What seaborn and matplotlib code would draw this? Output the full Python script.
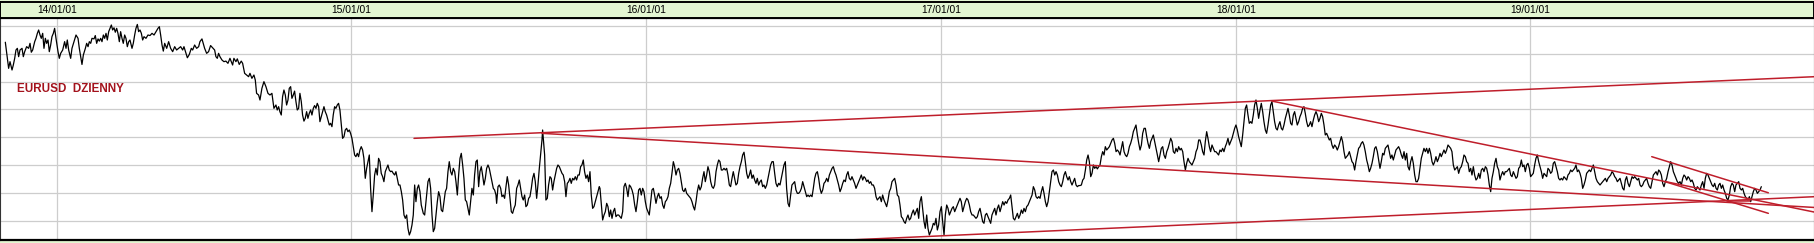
import numpy as np
import pandas as pd
import matplotlib
matplotlib.use("Agg")
import matplotlib.pyplot as plt
import seaborn as sns

# ---------------- data (day offset from 2014-01-01, EURUSD daily close) ----------------
eurusd_part1 = [(-64.0,1.371),(-59.9,1.324),(-58.2,1.336),(-55.7,1.321),(-54.1,1.330),(-52.4,1.342),(-50.8,1.357),(-49.1,1.360),(-47.5,1.345),(-45.8,1.357),(-43.3,1.360),(-41.7,1.345),(-40.0,1.354),(-37.6,1.363),(-35.1,1.360),(-33.4,1.369),(-31.8,1.353),(-30.1,1.357),(-27.6,1.372),(-26.0,1.378),(-24.3,1.387),(-22.7,1.393),(-21.0,1.384),(-19.4,1.378),(-17.7,1.387),(-16.1,1.360),(-14.4,1.378),(-12.8,1.369),(-11.1,1.375),(-9.5,1.354),(-7.8,1.366),(-6.2,1.381),(-4.5,1.387),(-2.9,1.396),(-1.2,1.378),(1.3,1.354),(2.9,1.342),(4.6,1.351),(7.1,1.357),(9.5,1.372),(11.2,1.360),(12.8,1.375),(14.5,1.357),(17.0,1.342),(18.6,1.360),(21.1,1.372),(23.6,1.384),(26.1,1.378),(27.7,1.360),(29.4,1.345),(31.0,1.331),(32.7,1.348),(35.2,1.360),(36.8,1.369),(38.5,1.363),(40.1,1.372),(41.8,1.369),(43.4,1.378),(45.9,1.377),(47.5,1.383),(49.2,1.369),(50.9,1.377),(52.5,1.373),(54.2,1.378),(55.8,1.372),(57.5,1.384),(59.1,1.378),(60.8,1.387),(62.4,1.375),(64.1,1.390),(65.7,1.396),(67.4,1.402),(69.0,1.393),(70.7,1.397),(72.3,1.389),(74.0,1.396),(75.6,1.387),(77.3,1.372),(78.9,1.390),(80.6,1.378),(82.2,1.369),(83.9,1.384),(85.5,1.378),(87.2,1.363),(88.9,1.372),(90.5,1.375),(93.0,1.360),(94.6,1.369),(96.3,1.384),(97.9,1.396),(99.6,1.403),(101.2,1.390),(102.9,1.393),(104.6,1.387),(106.2,1.375),(107.9,1.381),(110.3,1.378),(112.8,1.384),(115.3,1.383),(117.8,1.387),(120.3,1.384),(122.7,1.390),(125.2,1.396),(126.9,1.399),(128.5,1.384),(130.2,1.366),(131.8,1.355),(133.5,1.369),(136.0,1.360),(138.4,1.372),(140.9,1.360),(143.4,1.354),(145.9,1.363),(148.3,1.357),(150.8,1.360),(153.3,1.363),(155.8,1.357),(157.4,1.363),(159.9,1.351),(161.6,1.343),(164.0,1.349),(166.5,1.360),(168.2,1.357),(170.6,1.366),(173.1,1.360),(175.6,1.363)]

eurusd_part2 = [(177.2,1.372),(179.7,1.377),(181.3,1.369),(183.0,1.360),(185.5,1.351),(187.9,1.354),(190.4,1.365),(192.9,1.361),(195.4,1.357),(197.0,1.345),(198.7,1.342),(200.3,1.351),(202.0,1.345),(204.5,1.339),(206.9,1.336),(209.4,1.337),(211.9,1.333),(214.4,1.342),(216.0,1.336),(217.7,1.330),(219.3,1.342),(221.8,1.336),(223.5,1.341),(225.9,1.331),(228.4,1.337),(230.1,1.333),(232.6,1.315),(235.0,1.312),(237.5,1.309),(239.2,1.315),(241.6,1.306),(244.1,1.312),(245.8,1.303),(247.4,1.279),(249.9,1.276),(251.6,1.267),(254.0,1.288),(256.5,1.300),(259.0,1.291),(261.5,1.279),(264.0,1.276),(266.4,1.279),(268.9,1.252),(271.4,1.258),(273.0,1.249),(274.7,1.255),(276.3,1.246),(278.0,1.240),(279.6,1.273),(281.3,1.285),(283.0,1.276),(284.6,1.258),(286.3,1.267),(287.9,1.288),(289.6,1.291),(291.2,1.270),(292.9,1.276),(294.5,1.283),(296.2,1.264),(297.8,1.249),(299.5,1.252),(301.1,1.279),(302.8,1.264),(304.4,1.240),(306.1,1.229),(307.7,1.234),(309.4,1.246),(311.0,1.234),(312.7,1.243),(314.4,1.249),(316.0,1.240),(317.7,1.252),(319.3,1.257),(321.0,1.252),(322.6,1.261),(324.3,1.255),(325.9,1.228),(327.6,1.237),(329.2,1.246),(330.9,1.255),(332.5,1.246),(334.2,1.240),(335.8,1.231),(337.5,1.222),(339.1,1.225),(340.8,1.219),(342.4,1.240),(344.1,1.255),(345.7,1.252),(347.4,1.258),(349.0,1.261),(350.7,1.249),(352.4,1.222),(354.0,1.198),(355.7,1.201),(357.3,1.213),(359.0,1.216),(360.6,1.210),(362.3,1.213),(363.9,1.207),(365.6,1.198),(367.2,1.183),(368.9,1.168),(370.5,1.165),(372.2,1.171),(373.8,1.165),(375.5,1.177),(377.1,1.183),(378.8,1.177),(380.4,1.162),(382.1,1.126),(383.8,1.144),(385.4,1.156),(387.1,1.168),(388.7,1.108),(390.4,1.066),(392.0,1.096),(393.7,1.132),(395.3,1.144),(397.0,1.132),(398.6,1.162),(400.3,1.156),(401.9,1.135),(403.6,1.129),(405.2,1.120),(406.9,1.138),(408.5,1.144),(410.2,1.150),(411.8,1.141),(413.5,1.138),(415.1,1.139),(416.8,1.135),(418.5,1.132),(420.1,1.138),(421.8,1.126),(423.4,1.114)]

eurusd_part3 = [(425.1,1.114),(426.8,1.102),(428.4,1.087),(430.1,1.060),(431.7,1.054),(433.4,1.060),(435.0,1.036),(436.7,1.024),(438.3,1.030),(440.0,1.042),(441.6,1.060),(443.3,1.114),(444.9,1.084),(446.6,1.108),(448.2,1.114),(449.9,1.102),(451.5,1.078),(454.0,1.063),(455.7,1.060),(457.3,1.084),(459.8,1.120),(461.5,1.126),(463.1,1.108),(464.8,1.060),(466.4,1.030),(468.1,1.036),(469.7,1.060),(471.4,1.084),(473.0,1.102),(474.7,1.093),(476.3,1.069),(478.0,1.066),(479.6,1.084),(481.3,1.102),(482.9,1.108),(484.6,1.138),(486.2,1.156),(487.9,1.138),(489.5,1.132),(491.2,1.144),(492.9,1.138),(494.5,1.120),(496.2,1.096),(497.8,1.132),(499.5,1.162),(501.1,1.171),(502.8,1.150),(504.4,1.126),(506.1,1.087),(507.7,1.084),(509.4,1.072),(511.0,1.060),(512.7,1.084),(514.3,1.108),(516.0,1.096),(517.6,1.132),(519.3,1.156),(520.9,1.159),(522.6,1.111),(524.2,1.138),(525.9,1.147),(527.5,1.132),(529.2,1.114),(530.9,1.126),(532.5,1.144),(534.2,1.150),(535.8,1.144),(537.5,1.132),(539.1,1.120),(540.8,1.108),(542.4,1.105),(544.1,1.096),(544.9,1.081),(546.6,1.111),(548.2,1.114),(549.9,1.108),(551.5,1.093),(553.2,1.096),(554.8,1.090),(556.5,1.111),(558.1,1.129),(559.8,1.114),(561.4,1.090),(563.1,1.066),(564.7,1.063),(566.4,1.072),(568.0,1.078),(569.7,1.108),(571.3,1.114),(573.0,1.123),(574.6,1.108),(576.3,1.093),(577.9,1.087),(579.6,1.096),(581.2,1.075),(582.9,1.078),(584.6,1.090),(586.2,1.093),(587.9,1.108),(589.5,1.126),(591.2,1.135),(592.8,1.120),(594.5,1.090),(596.1,1.114),(597.8,1.144),(599.4,1.168),(601.1,1.195),(601.9,1.213),(602.7,1.198),(604.4,1.168),(606.0,1.087),(607.7,1.090),(609.3,1.114),(611.0,1.129),(612.6,1.126),(614.3,1.105),(615.9,1.120),(617.6,1.132),(619.3,1.144),(620.9,1.150),(622.6,1.147),(624.2,1.141),(625.9,1.135),(627.5,1.132),(629.2,1.120),(630.8,1.093),(632.5,1.117),(634.1,1.120),(635.8,1.126),(637.4,1.117),(639.1,1.126),(640.7,1.123),(642.4,1.129),(644.0,1.123),(645.7,1.132),(647.3,1.132),(649.0,1.147),(650.6,1.150),(652.3,1.159),(653.9,1.138),(655.6,1.126),(657.3,1.132),(658.9,1.120),(660.6,1.138),(662.2,1.096),(663.9,1.072),(665.5,1.075),(667.2,1.084),(668.8,1.093),(670.5,1.102),(672.1,1.111)]

eurusd_part4 = [(673.0,1.108),(674.7,1.078),(676.3,1.051),(678.0,1.060),(679.6,1.066),(681.3,1.081),(682.9,1.075),(684.6,1.057),(686.2,1.069),(687.9,1.054),(689.5,1.066),(691.2,1.072),(692.8,1.057),(694.5,1.060),(696.1,1.060),(697.8,1.057),(699.4,1.054),(701.1,1.066),(702.7,1.111),(704.4,1.117),(706.0,1.108),(707.7,1.093),(709.4,1.114),(711.0,1.111),(712.7,1.105),(714.3,1.096),(716.0,1.078),(717.6,1.066),(719.3,1.084),(720.9,1.105),(722.6,1.108),(724.2,1.096),(725.9,1.108),(727.5,1.102),(729.2,1.084),(730.8,1.072),(732.5,1.066),(734.1,1.060),(735.8,1.084),(737.4,1.105),(739.1,1.108),(740.7,1.096),(742.4,1.081),(744.1,1.093),(745.7,1.099),(747.4,1.090),(749.0,1.093),(750.7,1.078),(752.3,1.072),(754.0,1.084),(755.6,1.087),(757.3,1.093),(758.9,1.108),(760.6,1.117),(762.2,1.135),(763.9,1.156),(765.5,1.147),(767.2,1.132),(768.8,1.141),(770.5,1.144),(772.1,1.135),(773.8,1.120),(775.4,1.105),(777.1,1.102),(778.8,1.108),(780.4,1.099),(782.1,1.096),(783.7,1.093),(785.4,1.090),(787.0,1.084),(788.7,1.075),(790.3,1.069),(792.0,1.084),(793.6,1.102),(795.3,1.114),(796.9,1.105),(798.6,1.111),(800.2,1.126),(801.9,1.138),(803.5,1.120),(805.2,1.132),(806.8,1.147),(808.5,1.138),(810.2,1.120),(811.8,1.111),(813.5,1.108),(815.1,1.114),(816.8,1.138),(818.4,1.150),(820.1,1.159),(821.7,1.156),(823.4,1.141),(825.0,1.141),(826.7,1.144),(828.3,1.141),(830.0,1.144),(831.6,1.132),(833.3,1.114),(834.9,1.111),(836.6,1.126),(838.2,1.138),(839.9,1.126),(841.5,1.114),(843.2,1.117),(844.9,1.135),(846.5,1.147),(848.2,1.156),(849.8,1.168),(851.5,1.173),(853.1,1.156),(854.8,1.135),(856.4,1.126),(858.1,1.132),(859.7,1.141),(861.4,1.126),(863.0,1.132),(864.7,1.123),(866.3,1.117),(868.0,1.126),(869.6,1.114),(871.3,1.120),(872.9,1.123),(874.6,1.111),(876.2,1.114),(877.9,1.108),(879.6,1.114),(881.2,1.126),(882.9,1.138),(884.5,1.150),(886.2,1.156),(887.8,1.156),(889.5,1.135),(891.1,1.117),(892.8,1.111),(894.4,1.117),(896.1,1.114),(897.7,1.126),(899.4,1.138),(901.0,1.150),(902.7,1.156),(904.3,1.108),(906.0,1.081),(907.6,1.075),(909.3,1.096),(910.9,1.114),(912.6,1.117),(914.3,1.120),(915.9,1.105),(917.6,1.099),(919.2,1.099)]

eurusd_part5 = [(920.9,1.102),(922.6,1.108),(924.2,1.120),(925.9,1.111),(927.5,1.102),(929.2,1.093),(930.8,1.096),(932.5,1.093),(934.1,1.096),(935.8,1.093),(937.4,1.108),(939.1,1.126),(940.7,1.135),(942.4,1.138),(944.0,1.126),(945.7,1.108),(947.3,1.099),(949.0,1.105),(950.6,1.117),(952.3,1.120),(953.9,1.126),(955.6,1.120),(957.3,1.132),(958.9,1.138),(960.6,1.144),(962.2,1.147),(963.9,1.138),(965.5,1.132),(967.2,1.123),(968.8,1.114),(970.5,1.102),(972.1,1.108),(973.8,1.117),(975.4,1.123),(977.1,1.120),(978.7,1.132),(980.4,1.138),(982.0,1.126),(983.7,1.123),(985.3,1.129),(987.0,1.123),(988.6,1.117),(990.3,1.108),(992.0,1.114),(993.6,1.120),(995.3,1.126),(996.9,1.132),(998.6,1.123),(1000.2,1.129),(1001.9,1.126),(1003.5,1.120),(1005.2,1.123),(1006.8,1.117),(1008.5,1.120),(1010.1,1.114),(1011.8,1.114),(1013.4,1.108),(1015.1,1.093),(1016.7,1.087),(1018.4,1.090),(1020.0,1.093),(1021.7,1.084),(1023.3,1.096),(1025.0,1.087),(1026.7,1.081),(1028.3,1.075),(1030.0,1.087),(1031.6,1.102),(1033.3,1.108),(1034.9,1.120),(1036.6,1.123),(1038.2,1.126),(1039.9,1.114),(1041.5,1.096),(1043.2,1.093),(1044.8,1.078),(1046.5,1.057),(1048.1,1.054),(1049.8,1.048),(1051.4,1.045),(1053.1,1.054),(1054.7,1.060),(1056.4,1.051),(1058.0,1.054),(1059.7,1.063),(1061.4,1.069),(1063.0,1.060),(1064.7,1.066),(1066.3,1.072),(1068.0,1.054),(1069.6,1.084),(1071.3,1.093),(1072.9,1.072),(1074.6,1.048),(1076.2,1.036),(1077.9,1.060),(1079.5,1.036),(1081.2,1.024),(1082.8,1.030),(1084.5,1.036),(1086.1,1.045),(1087.8,1.042),(1089.4,1.054),(1091.1,1.033),(1092.7,1.042),(1094.4,1.066),(1096.1,1.075),(1097.7,1.048),(1099.4,1.024),(1101.0,1.060),(1102.7,1.078),(1104.3,1.072),(1106.0,1.060),(1107.6,1.066),(1109.3,1.072),(1110.9,1.075),(1112.6,1.066),(1114.2,1.072),(1115.9,1.078),(1117.5,1.084),(1119.2,1.090),(1120.8,1.084),(1122.5,1.066),(1124.1,1.075),(1125.8,1.084),(1127.5,1.090),(1129.1,1.087),(1130.8,1.078),(1132.4,1.066),(1134.1,1.060),(1135.7,1.060),(1137.4,1.057),(1139.0,1.054),(1140.7,1.057),(1142.3,1.066),(1144.0,1.072),(1145.6,1.060),(1147.3,1.048),(1148.9,1.045),(1150.6,1.060),(1152.2,1.063),(1153.9,1.057),(1155.5,1.051),(1157.2,1.045),(1158.8,1.060),(1160.5,1.066),(1162.2,1.072),(1163.8,1.060),(1165.5,1.072),(1167.1,1.078)]

eurusd_part6 = [(1168.8,1.066),(1170.5,1.075),(1172.1,1.084),(1173.8,1.078),(1175.4,1.084),(1177.1,1.081),(1178.7,1.087),(1180.4,1.090),(1182.0,1.096),(1183.7,1.075),(1185.3,1.054),(1187.0,1.051),(1188.6,1.057),(1190.3,1.063),(1191.9,1.054),(1193.6,1.060),(1195.2,1.069),(1196.9,1.063),(1198.5,1.072),(1200.2,1.066),(1201.8,1.075),(1203.5,1.078),(1205.2,1.084),(1206.8,1.090),(1208.5,1.096),(1210.1,1.111),(1211.8,1.105),(1213.4,1.093),(1215.1,1.090),(1216.7,1.093),(1218.4,1.090),(1220.0,1.102),(1221.7,1.111),(1223.3,1.099),(1225.0,1.084),(1226.6,1.075),(1228.3,1.084),(1229.9,1.102),(1231.6,1.120),(1233.2,1.138),(1234.9,1.141),(1236.6,1.132),(1238.2,1.138),(1239.9,1.132),(1241.5,1.120),(1243.2,1.114),(1244.8,1.111),(1246.5,1.120),(1248.1,1.132),(1249.8,1.138),(1251.4,1.129),(1253.1,1.123),(1254.7,1.129),(1256.4,1.120),(1258.0,1.114),(1259.7,1.120),(1261.3,1.126),(1263.0,1.114),(1264.6,1.111),(1266.3,1.113),(1267.9,1.113),(1269.6,1.114),(1271.3,1.123),(1272.9,1.126),(1274.6,1.141),(1276.2,1.159),(1277.9,1.168),(1279.5,1.156),(1281.2,1.129),(1282.8,1.135),(1284.5,1.150),(1286.1,1.144),(1287.8,1.147),(1289.4,1.143),(1291.1,1.147),(1292.7,1.150),(1294.4,1.165),(1296.0,1.174),(1297.7,1.168),(1299.3,1.183),(1301.0,1.177),(1302.6,1.180),(1304.3,1.183),(1306.0,1.189),(1307.6,1.195),(1309.3,1.198),(1310.9,1.189),(1312.6,1.174),(1314.2,1.177),(1315.9,1.174),(1317.5,1.168),(1319.2,1.180),(1320.8,1.192),(1322.5,1.174),(1324.1,1.168),(1325.8,1.165),(1327.4,1.171),(1329.1,1.183),(1330.7,1.189),(1332.4,1.198),(1334.0,1.210),(1335.7,1.216),(1337.3,1.222),(1339.0,1.204),(1340.7,1.189),(1342.3,1.177),(1344.0,1.186),(1345.6,1.207),(1347.3,1.216),(1348.9,1.216),(1350.6,1.201),(1352.2,1.189),(1353.9,1.180),(1355.5,1.192),(1357.2,1.198),(1358.8,1.204),(1360.5,1.192),(1362.1,1.180),(1363.8,1.168),(1365.4,1.156),(1367.1,1.168),(1368.7,1.180),(1370.4,1.183),(1372.0,1.168),(1373.7,1.162),(1375.4,1.174),(1377.0,1.180),(1378.7,1.189),(1380.3,1.198),(1382.0,1.192),(1383.6,1.174),(1385.3,1.171),(1386.9,1.180),(1388.6,1.174),(1390.2,1.183),(1391.9,1.177),(1393.5,1.180),(1395.2,1.174),(1396.8,1.156),(1398.5,1.141),(1400.1,1.153),(1401.8,1.162),(1403.4,1.156),(1405.1,1.153),(1406.7,1.150),(1408.4,1.156),(1410.1,1.162),(1411.7,1.174),(1413.4,1.180),(1415.0,1.195)]

eurusd_part7 = [(1416.6,1.195),(1418.3,1.186),(1419.9,1.174),(1421.6,1.168),(1423.2,1.192),(1424.9,1.210),(1426.5,1.198),(1428.2,1.183),(1429.8,1.174),(1431.5,1.186),(1433.1,1.180),(1434.8,1.174),(1436.4,1.174),(1438.1,1.171),(1439.7,1.168),(1441.4,1.177),(1443.0,1.174),(1444.7,1.180),(1446.3,1.174),(1448.0,1.183),(1449.6,1.189),(1451.3,1.198),(1453.0,1.186),(1454.6,1.192),(1456.3,1.198),(1457.9,1.207),(1459.6,1.216),(1461.2,1.222),(1462.9,1.213),(1464.5,1.201),(1466.2,1.192),(1467.8,1.183),(1469.5,1.204),(1471.1,1.228),(1472.8,1.252),(1474.4,1.258),(1476.1,1.240),(1477.7,1.225),(1479.4,1.228),(1481.0,1.225),(1482.7,1.240),(1484.3,1.258),(1486.0,1.267),(1487.7,1.252),(1489.3,1.234),(1491.0,1.249),(1492.6,1.261),(1494.3,1.246),(1495.9,1.228),(1497.6,1.213),(1499.2,1.207),(1500.9,1.222),(1502.5,1.240),(1504.2,1.258),(1505.8,1.264),(1507.5,1.246),(1509.1,1.228),(1510.8,1.216),(1512.4,1.213),(1514.1,1.222),(1515.7,1.228),(1517.4,1.216),(1519.0,1.213),(1520.7,1.222),(1522.4,1.234),(1524.0,1.243),(1525.7,1.252),(1527.3,1.240),(1529.0,1.225),(1530.6,1.222),(1532.3,1.240),(1533.9,1.246),(1535.6,1.234),(1537.2,1.222),(1538.9,1.228),(1540.5,1.237),(1542.2,1.243),(1543.8,1.252),(1545.5,1.255),(1547.1,1.243),(1548.8,1.228),(1550.4,1.219),(1552.1,1.222),(1553.7,1.228),(1555.4,1.219),(1557.1,1.231),(1558.7,1.240),(1560.4,1.246),(1562.0,1.240),(1563.7,1.228),(1565.3,1.234),(1567.0,1.243),(1568.6,1.237),(1570.3,1.222),(1571.9,1.204),(1573.6,1.207),(1575.2,1.201),(1576.9,1.195),(1578.5,1.198),(1580.2,1.186),(1581.8,1.180),(1583.5,1.186),(1585.1,1.183),(1586.8,1.177),(1588.4,1.183),(1590.1,1.192),(1591.8,1.201),(1593.4,1.192),(1595.1,1.174),(1596.7,1.162),(1598.4,1.165),(1600.0,1.168),(1601.7,1.174),(1603.3,1.165),(1605.0,1.156),(1606.6,1.153),(1608.3,1.141),(1609.9,1.156),(1611.6,1.168),(1613.2,1.180),(1614.9,1.183),(1616.5,1.189),(1618.2,1.192),(1619.8,1.186),(1621.5,1.174),(1623.2,1.159),(1624.8,1.150),(1626.5,1.138),(1628.1,1.144),(1629.8,1.153),(1631.4,1.165),(1633.1,1.180),(1634.7,1.183),(1636.4,1.174),(1638.0,1.159),(1639.7,1.144),(1641.3,1.156),(1643.0,1.171),(1644.6,1.168),(1646.3,1.180),(1647.9,1.183),(1649.6,1.186),(1651.2,1.174),(1652.9,1.162),(1654.5,1.168),(1656.2,1.159),(1657.9,1.168),(1659.5,1.177),(1661.2,1.180),(1662.8,1.183)]

eurusd_part8 = [(1664.5,1.177),(1666.2,1.168),(1667.8,1.162),(1669.5,1.174),(1671.1,1.159),(1672.8,1.171),(1674.4,1.147),(1676.1,1.141),(1677.7,1.156),(1679.4,1.165),(1681.0,1.153),(1682.7,1.132),(1684.3,1.120),(1686.0,1.120),(1687.6,1.126),(1689.3,1.144),(1690.9,1.162),(1692.6,1.171),(1694.2,1.180),(1695.9,1.174),(1697.5,1.180),(1699.2,1.171),(1700.9,1.180),(1702.5,1.171),(1704.2,1.156),(1705.8,1.150),(1707.5,1.156),(1709.1,1.165),(1710.8,1.156),(1712.4,1.162),(1714.1,1.171),(1715.7,1.165),(1717.4,1.171),(1719.0,1.177),(1720.7,1.171),(1722.3,1.177),(1724.0,1.186),(1725.6,1.183),(1727.3,1.180),(1728.9,1.174),(1730.6,1.150),(1732.3,1.141),(1733.9,1.144),(1735.6,1.147),(1737.2,1.135),(1738.9,1.144),(1740.5,1.147),(1742.2,1.156),(1743.8,1.168),(1745.5,1.165),(1747.1,1.156),(1748.8,1.153),(1750.4,1.138),(1752.1,1.144),(1753.7,1.132),(1755.4,1.147),(1757.0,1.132),(1758.7,1.123),(1760.3,1.126),(1762.0,1.135),(1763.6,1.126),(1765.3,1.141),(1767.0,1.144),(1768.6,1.138),(1770.3,1.147),(1771.9,1.144),(1773.6,1.132),(1775.2,1.114),(1776.9,1.102),(1778.5,1.126),(1780.2,1.138),(1781.8,1.153),(1783.5,1.162),(1785.1,1.147),(1786.8,1.141),(1788.4,1.123),(1790.1,1.132),(1791.7,1.138),(1793.4,1.132),(1795.0,1.138),(1796.7,1.138),(1798.3,1.141),(1800.0,1.144),(1801.7,1.132),(1803.3,1.129),(1805.0,1.138),(1806.6,1.132),(1808.3,1.126),(1809.9,1.129),(1811.6,1.144),(1813.2,1.147),(1814.9,1.159),(1816.5,1.147),(1818.2,1.150),(1819.8,1.138),(1821.5,1.150),(1823.1,1.153),(1824.8,1.144),(1826.4,1.129),(1828.1,1.132),(1829.7,1.135),(1831.4,1.150),(1833.0,1.162),(1834.7,1.168),(1836.4,1.156),(1838.0,1.147),(1839.7,1.138),(1841.3,1.126),(1843.0,1.135),(1844.6,1.132),(1846.3,1.129),(1847.9,1.144),(1849.6,1.141),(1851.2,1.135),(1852.9,1.138),(1854.5,1.153),(1856.2,1.156),(1857.8,1.147),(1859.5,1.138),(1861.1,1.126),(1862.8,1.123),(1864.4,1.126),(1866.1,1.123),(1867.7,1.129),(1869.4,1.126),(1871.1,1.123),(1872.7,1.132),(1874.4,1.135),(1876.0,1.141),(1877.7,1.138),(1879.3,1.141),(1881.0,1.144),(1882.6,1.150),(1884.3,1.138),(1885.9,1.141),(1887.6,1.135),(1889.2,1.126),(1890.9,1.108),(1892.5,1.114),(1894.2,1.123),(1895.8,1.135),(1897.5,1.138),(1899.1,1.141),(1900.8,1.138),(1902.4,1.144),(1904.1,1.150),(1905.8,1.138),(1907.4,1.126),(1909.1,1.120),(1910.7,1.117)]

eurusd_part9 = [(1912.4,1.114),(1914.1,1.117),(1915.7,1.120),(1917.4,1.123),(1919.0,1.126),(1920.7,1.120),(1922.3,1.126),(1924.0,1.129),(1925.6,1.132),(1927.3,1.138),(1928.9,1.135),(1930.6,1.129),(1932.2,1.126),(1933.9,1.120),(1935.5,1.123),(1937.2,1.126),(1938.8,1.117),(1940.5,1.108),(1942.1,1.105),(1943.8,1.123),(1945.4,1.129),(1947.1,1.117),(1948.8,1.111),(1950.4,1.120),(1952.1,1.129),(1953.7,1.126),(1955.4,1.129),(1957.0,1.126),(1958.7,1.123),(1960.3,1.126),(1962.0,1.114),(1963.6,1.111),(1965.3,1.114),(1966.9,1.120),(1968.6,1.123),(1970.2,1.126),(1971.9,1.117),(1973.5,1.111),(1975.2,1.108),(1976.8,1.120),(1978.5,1.132),(1980.1,1.135),(1981.8,1.138),(1983.5,1.132),(1985.1,1.141),(1986.8,1.138),(1988.4,1.132),(1990.1,1.117),(1991.7,1.111),(1993.4,1.120),(1995.0,1.126),(1996.7,1.138),(1998.3,1.147),(2000.0,1.156),(2001.6,1.150),(2003.3,1.138),(2004.9,1.132),(2006.6,1.126),(2008.2,1.120),(2009.9,1.117),(2011.5,1.120),(2013.2,1.114),(2014.9,1.126),(2016.5,1.132),(2018.2,1.129),(2019.8,1.123),(2021.5,1.129),(2023.1,1.126),(2024.8,1.120),(2026.4,1.123),(2028.1,1.117),(2029.7,1.108),(2031.4,1.105),(2033.0,1.111),(2034.7,1.108),(2036.3,1.105),(2038.0,1.114),(2039.6,1.120),(2041.3,1.108),(2042.9,1.126),(2044.6,1.135),(2046.2,1.132),(2047.9,1.126),(2049.5,1.120),(2051.2,1.114),(2052.9,1.111),(2054.5,1.117),(2056.2,1.108),(2057.8,1.105),(2059.5,1.114),(2061.1,1.117),(2062.8,1.108),(2064.4,1.114),(2066.1,1.105),(2067.7,1.099),(2069.4,1.090),(2071.0,1.087),(2072.7,1.096),(2074.3,1.111),(2076.0,1.117),(2077.6,1.114),(2079.3,1.102),(2080.9,1.114),(2082.6,1.117),(2084.3,1.120),(2085.9,1.108),(2087.6,1.105),(2089.2,1.108),(2090.9,1.099),(2092.5,1.093),(2094.2,1.090),(2095.8,1.087),(2097.5,1.093),(2099.1,1.084),(2100.8,1.093),(2102.4,1.102),(2104.1,1.108),(2105.7,1.105),(2107.4,1.099),(2109.0,1.102),(2110.7,1.105),(2112.3,1.111)]

# red trend lines: start/end (day offset, price)
trend_start_day = [442.5, 601.1, 796.9, 1505.9, 1976.5, 1993.0, 2069.4]
trend_start_price = [1.198, 1.207, 1.003, 1.265, 1.165, 1.120, 1.086]
trend_end_day = [2178.9, 2178.9, 2178.9, 2178.9, 2121.0, 2121.0, 2098.3]
trend_end_price = [1.309, 1.0735, 1.093, 1.065, 1.100, 1.063, 1.086]

year_ticks = ["2014-01-01", "2015-01-01", "2016-01-01", "2017-01-01", "2018-01-01", "2019-01-01"]
year_labels = ["14/01/01", "15/01/01", "16/01/01", "17/01/01", "18/01/01", "19/01/01"]
grid_levels = [1.40, 1.35, 1.30, 1.25, 1.20, 1.15, 1.10, 1.05]
title_text = "EURUSD  DZIENNY"

# ---------------- build frames ----------------
BASE = pd.Timestamp("2014-01-01")


def to_dates(days):
    return BASE + pd.to_timedelta(np.asarray(days, dtype=float), unit="D")


parts = [eurusd_part1, eurusd_part2, eurusd_part3, eurusd_part4, eurusd_part5,
         eurusd_part6, eurusd_part7, eurusd_part8, eurusd_part9]
rows = [p for part in parts for p in part]
price = pd.DataFrame(rows, columns=["day", "close"])
price["date"] = to_dates(price["day"])

trend_rows = []
for i in range(len(trend_start_day)):
    trend_rows.append((i, trend_start_day[i], trend_start_price[i]))
    trend_rows.append((i, trend_end_day[i], trend_end_price[i]))
trend = pd.DataFrame(trend_rows, columns=["line", "day", "price"])
trend["date"] = to_dates(trend["day"])

# ---------------- figure ----------------
sns.set_theme(style="white")
plt.rcParams["font.family"] = ["Liberation Sans", "DejaVu Sans"]

W, H = 1815, 243
GREEN = "#E3F6D2"
fig = plt.figure(figsize=(W / 100, H / 100), dpi=100, facecolor=GREEN)
ax = fig.add_axes([0, 3 / H, 1814 / W, 222 / H])
band = fig.add_axes([0, 225 / H, 1814 / W, 16 / H])

xmin = to_dates([-70.6])[0]
xmax = to_dates([2177.6])[0]

ax.set_facecolor("white")
sns.lineplot(data=price, x="date", y="close", color="black", linewidth=0.9,
             estimator=None, sort=False, ax=ax)
sns.lineplot(data=trend, x="date", y="price", units="line", estimator=None,
             color="#BF1E2B", linewidth=1.1, sort=False, ax=ax)

ax.set_xlim(xmin, xmax)
ax.set_ylim(1.015, 1.4146)
ax.set_xticks(list(pd.to_datetime(year_ticks)))
ax.set_yticks(grid_levels)
ax.set_axisbelow(True)
ax.grid(True, color="#CDCDCD", linewidth=0.9)
ax.tick_params(left=False, bottom=False, labelleft=False, labelbottom=False, length=0)
ax.set_xlabel("")
ax.set_ylabel("")
for side in ["top", "bottom"]:
    ax.spines[side].set_color("black")
    ax.spines[side].set_linewidth(1.6)
for side in ["left", "right"]:
    ax.spines[side].set_color("#333333")
    ax.spines[side].set_linewidth(0.8)

ax.text(16.7 / 1814, 0.678, title_text, transform=ax.transAxes, color="#A3121C",
        fontsize=8.4, fontweight="bold", ha="left", va="center")

band.set_facecolor(GREEN)
band.set_xlim(xmin, xmax)
band.set_ylim(0, 1)
band.set_xticks([])
band.set_yticks([])
for side in band.spines.values():
    side.set_color("black")
    side.set_linewidth(1.4)
for d, lab in zip(pd.to_datetime(year_ticks), year_labels):
    band.text(d, 0.48, lab, ha="center", va="center", fontsize=7.4, color="black")

fig.savefig("out.png", dpi=100, facecolor=fig.get_facecolor())
